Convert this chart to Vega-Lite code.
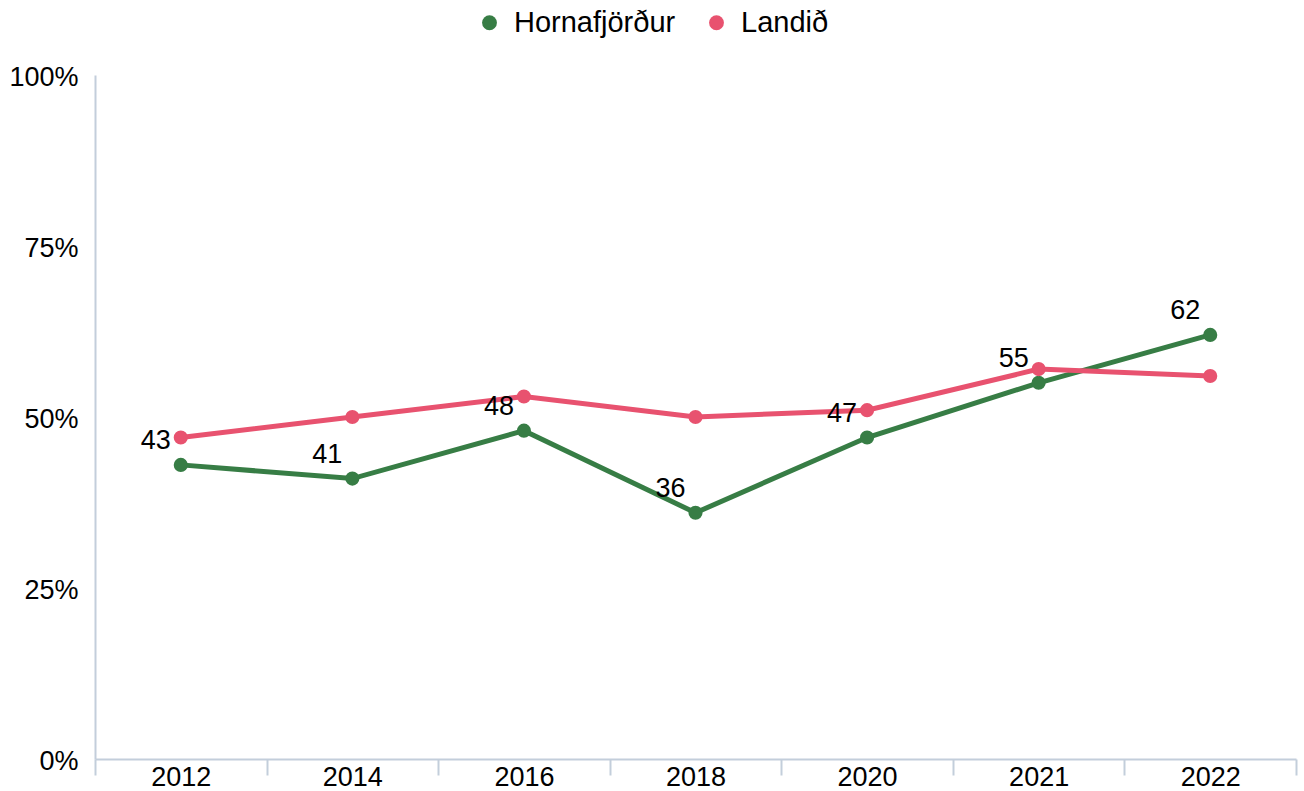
{
  "$schema": "https://vega.github.io/schema/vega-lite/v6.json",
  "width": 1201,
  "height": 684,
  "autosize": {"type": "none"},
  "padding": {"left": 95, "top": 75, "right": 8, "bottom": 32},
  "config": {"view": {"stroke": null}, "font": "Liberation Sans"},
  "data": {
    "values": [
      {"year": "2012", "series": "Hornafjörður", "value": 43},
      {"year": "2014", "series": "Hornafjörður", "value": 41},
      {"year": "2016", "series": "Hornafjörður", "value": 48},
      {"year": "2018", "series": "Hornafjörður", "value": 36},
      {"year": "2020", "series": "Hornafjörður", "value": 47},
      {"year": "2021", "series": "Hornafjörður", "value": 55},
      {"year": "2022", "series": "Hornafjörður", "value": 62},
      {"year": "2012", "series": "Landið", "value": 47},
      {"year": "2014", "series": "Landið", "value": 50},
      {"year": "2016", "series": "Landið", "value": 53},
      {"year": "2018", "series": "Landið", "value": 50},
      {"year": "2020", "series": "Landið", "value": 51},
      {"year": "2021", "series": "Landið", "value": 57},
      {"year": "2022", "series": "Landið", "value": 56}
    ]
  },
  "encoding": {
    "x": {
      "field": "year",
      "type": "ordinal",
      "scale": {"paddingInner": 0, "paddingOuter": 0},
      "axis": {
        "title": null,
        "labelAngle": 0,
        "tickBand": "extent",
        "domainColor": "#c3cedb",
        "tickColor": "#c3cedb",
        "domainWidth": 2,
        "tickWidth": 2,
        "tickSize": 16,
        "labelPadding": -11,
        "labelFontSize": 27,
        "labelColor": "#000000",
        "labelBaseline": "top"
      }
    },
    "y": {
      "field": "value",
      "type": "quantitative",
      "scale": {"domain": [0, 100]},
      "axis": {
        "title": null,
        "values": [0, 25, 50, 75, 100],
        "labelExpr": "datum.value + '%'",
        "grid": false,
        "ticks": false,
        "domainColor": "#c3cedb",
        "domainWidth": 2,
        "labelPadding": 17,
        "labelFontSize": 27,
        "labelColor": "#000000",
        "labelOffset": 2
      }
    },
    "color": {
      "field": "series",
      "type": "nominal",
      "scale": {"domain": ["Hornafjörður", "Landið"], "range": ["#377d45", "#e8526f"]},
      "legend": {
        "title": null,
        "orient": "none",
        "direction": "horizontal",
        "legendX": 380,
        "legendY": -67,
        "symbolType": "circle",
        "symbolSize": 220,
        "symbolStrokeWidth": 0,
        "labelFontSize": 29,
        "labelLimit": 400,
        "labelColor": "#000000",
        "labelOffset": 10,
        "columnPadding": 26
      }
    }
  },
  "layer": [
    {"mark": {"type": "line", "strokeWidth": 5}},
    {"mark": {"type": "point", "filled": true, "size": 200, "opacity": 1}},
    {
      "transform": [{"filter": "datum.series === 'Hornafjörður'"}],
      "mark": {"type": "text", "dx": -25, "dy": -24, "fontSize": 27, "color": "#000000"},
      "encoding": {"text": {"field": "value"}, "color": {"value": "#000000"}}
    }
  ]
}
